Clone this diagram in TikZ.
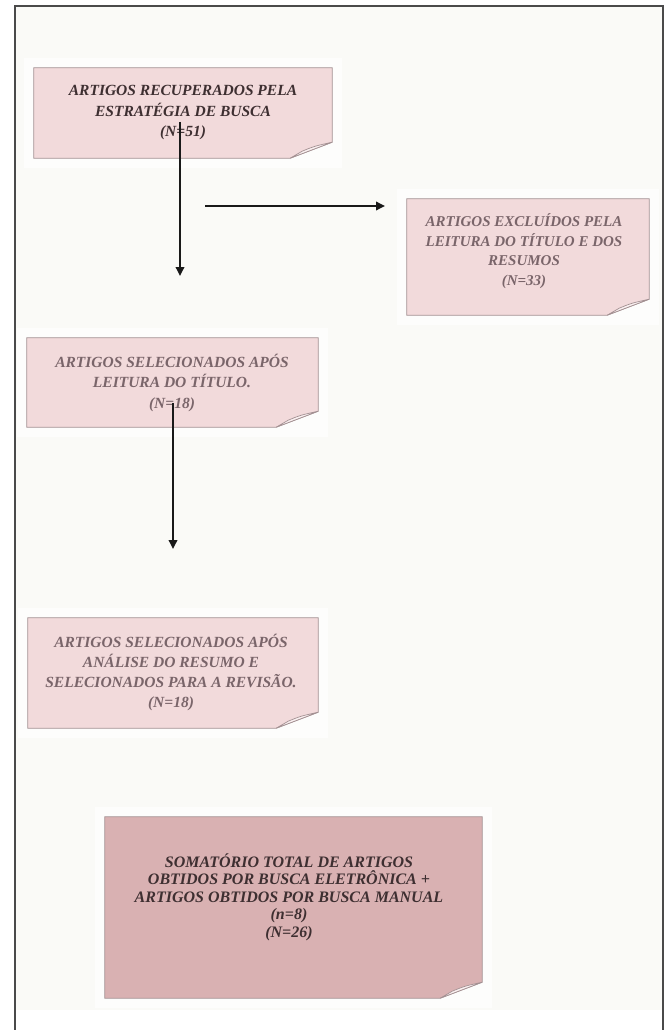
\documentclass[tikz,border=0pt]{standalone}
\usepackage{fontspec}
\setmainfont{Liberation Serif}
\usetikzlibrary{arrows.meta,backgrounds}
\definecolor{pinkA}{HTML}{F2DADB}
\definecolor{pinkB}{HTML}{D9B1B2}
\definecolor{edgecol}{HTML}{A39092}
\definecolor{flapcol}{HTML}{FBF1F1}
\definecolor{txtdark}{HTML}{3E2F31}
\definecolor{txtlight}{HTML}{7A656A}
\definecolor{pagebg}{HTML}{FAFAF7}
\definecolor{halocol}{HTML}{FDFDFC}
\definecolor{framecol}{HTML}{4A4A4A}
\tikzset{
  boxnode/.style={draw=none, fill=none, inner sep=0pt},
  boxtext/.style={align=center, inner sep=0pt, font=\bfseries\itshape},
  arr/.style={draw=black!90, line width=1.8pt, -{Triangle[length=9pt,width=8.5pt]}},
}
\newcommand{\paperbox}[2]{%
  \fill[halocol] ([shift={(-10pt,10pt)}]#1.north west) rectangle ([shift={(10pt,-10pt)}]#1.south east);
  \filldraw[fill=#2, draw=edgecol, line width=0.8pt]
    (#1.north west) -- (#1.north east) -- ([yshift=16pt]#1.south east)
    -- ([xshift=-42pt]#1.south east) -- (#1.south west) -- cycle;
  \filldraw[fill=flapcol, draw=edgecol, line width=0.7pt]
    ([yshift=16pt]#1.south east)
    .. controls ([shift={(-18pt,12pt)}]#1.south east) .. ([shift={(-30pt,7pt)}]#1.south east)
    -- ([xshift=-42pt]#1.south east) -- cycle;
}
\begin{document}
\begin{tikzpicture}[x=1pt,y=-1pt]
\useasboundingbox (0,0) rectangle (669,1030);
\begin{scope}[on background layer]
  \fill[white] (0,0) rectangle (669,1030);
  \fill[pagebg] (15,6) rectangle (663,1010);
\end{scope}

% boxes
\node[boxnode, minimum width=298pt, minimum height=90pt] (b1) at (183,113) {};
\node[boxnode, minimum width=242pt, minimum height=116pt] (b2) at (528,257) {};
\node[boxnode, minimum width=291pt, minimum height=89pt] (b3) at (172.5,382.5) {};
\node[boxnode, minimum width=290pt, minimum height=110pt] (b4) at (173,673) {};
\node[boxnode, minimum width=377pt, minimum height=181pt] (b5) at (293.5,907.5) {};

\begin{scope}[on background layer]
  \paperbox{b1}{pinkA}
  \paperbox{b2}{pinkA}
  \paperbox{b3}{pinkA}
  \paperbox{b4}{pinkA}
  \paperbox{b5}{pinkB}
\end{scope}

% texts
\node[boxtext, text=txtdark, font=\fontsize{15.5}{20.5}\selectfont\bfseries\itshape] (t1) at (183,113)
  {ARTIGOS RECUPERADOS PELA\\ESTRATÉGIA DE BUSCA\\(N=51)};
\node[boxtext, text=txtlight, font=\fontsize{15}{19.5}\selectfont\bfseries\itshape] (t2) at (524,251)
  {ARTIGOS EXCLUÍDOS PELA\\LEITURA DO TÍTULO E DOS\\RESUMOS\\(N=33)};
\node[boxtext, text=txtlight, font=\fontsize{15.5}{20.5}\selectfont\bfseries\itshape] (t3) at (172,382.5)
  {ARTIGOS SELECIONADOS APÓS\\LEITURA DO TÍTULO.\\(N=18)};
\node[boxtext, text=txtlight, font=\fontsize{15.5}{20}\selectfont\bfseries\itshape] (t4) at (171,672)
  {ARTIGOS SELECIONADOS APÓS\\ANÁLISE DO RESUMO E\\SELECIONADOS PARA A REVISÃO.\\(N=18)};
\node[boxtext, text=txtdark, font=\fontsize{16}{17.5}\selectfont\bfseries\itshape] (t5) at (289,897)
  {SOMATÓRIO TOTAL DE ARTIGOS\\OBTIDOS POR BUSCA ELETRÔNICA +\\ARTIGOS OBTIDOS POR BUSCA MANUAL\\(n=8)\\(N=26)};

% connector ends
\coordinate (a1s) at (180,122);
\coordinate (a1e) at (180,276);
\coordinate (a2s) at (205,206);
\coordinate (a2e) at (385,206);
\coordinate (a3s) at (173,403);
\coordinate (a3e) at (173,549);

\draw[arr] (a1s) -- (a1e);
\draw[arr] (a2s) -- (a2e);
\draw[arr] (a3s) -- (a3e);

% frame
\draw[framecol, line width=1.5pt] (15,1030) -- (15,6) -- (663,6) -- (663,1030);
\end{tikzpicture}
\end{document}
